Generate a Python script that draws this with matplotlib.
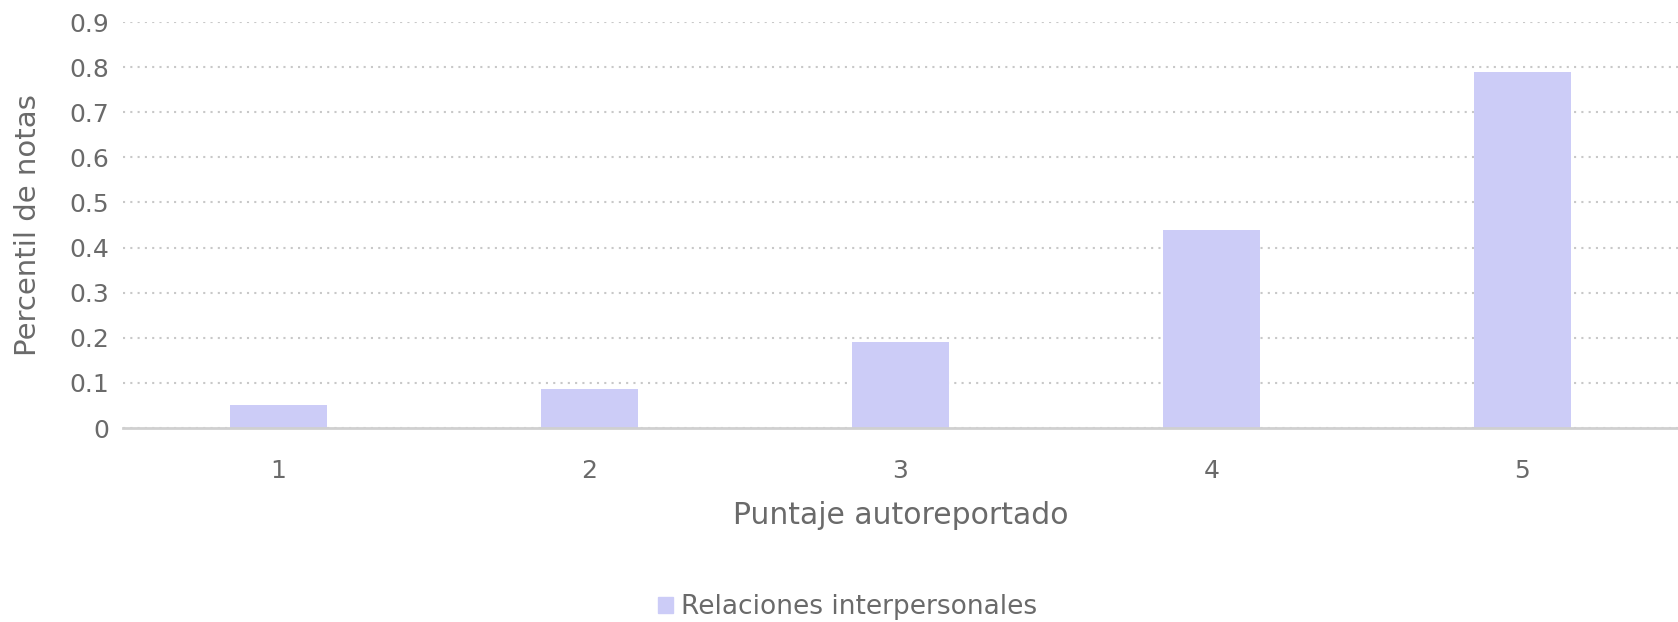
import matplotlib.pyplot as plt
from matplotlib.patches import Patch

# datos
categorias = ['1', '2', '3', '4', '5']
valores = [0.05, 0.087, 0.19, 0.44, 0.79]
serie = 'Relaciones interpersonales'
yticks = [0, 0.1, 0.2, 0.3, 0.4, 0.5, 0.6, 0.7, 0.8, 0.9]
ytick_labels = ['0', '0.1', '0.2', '0.3', '0.4', '0.5', '0.6', '0.7', '0.8', '0.9']

plt.rcParams['font.family'] = ['DejaVu Sans']
gris = '#6a6a6a'
color_barra = '#ccccf7'

fig = plt.figure(figsize=(16.78, 6.22), dpi=100)
ax = fig.add_axes([123 / 1678, 1 - 428 / 622, (1678 - 123) / 1678, (428 - 22) / 622])

x = range(len(categorias))
ax.bar(x, valores, width=0.31, color=color_barra, zorder=3)

ax.set_xlim(-0.5, 4.5)
ax.set_ylim(0, 0.9)
ax.set_yticks(yticks)
ax.set_yticklabels(ytick_labels)
ax.set_xticks(list(x))
ax.set_xticklabels(categorias)

ax.grid(axis='y', linestyle=(0, (1, 2.5)), color='#c8c8c8', linewidth=1.5, zorder=0)
for s in ['top', 'right', 'left']:
    ax.spines[s].set_visible(False)
ax.spines['bottom'].set_color('#d0d0d0')
ax.spines['bottom'].set_linewidth(2)
ax.spines['bottom'].set_zorder(4)

ax.tick_params(axis='both', length=0, labelsize=18, colors=gris)
ax.tick_params(axis='x', pad=22)
ax.tick_params(axis='y', pad=10)

ax.set_xlabel('Puntaje autoreportado', fontsize=21.5, color=gris, labelpad=13)
ax.set_ylabel('Percentil de notas', fontsize=21, color=gris)
ax.yaxis.set_label_coords(-0.052, 0.5)

fig.legend(handles=[Patch(color=color_barra, label=serie)], loc='lower center',
           bbox_to_anchor=(0.505, -0.035), frameon=False, fontsize=19,
           handlelength=0.55, handleheight=0.55, handletextpad=0.3,
           labelcolor=gris)

fig.savefig('out.png', dpi=100)
